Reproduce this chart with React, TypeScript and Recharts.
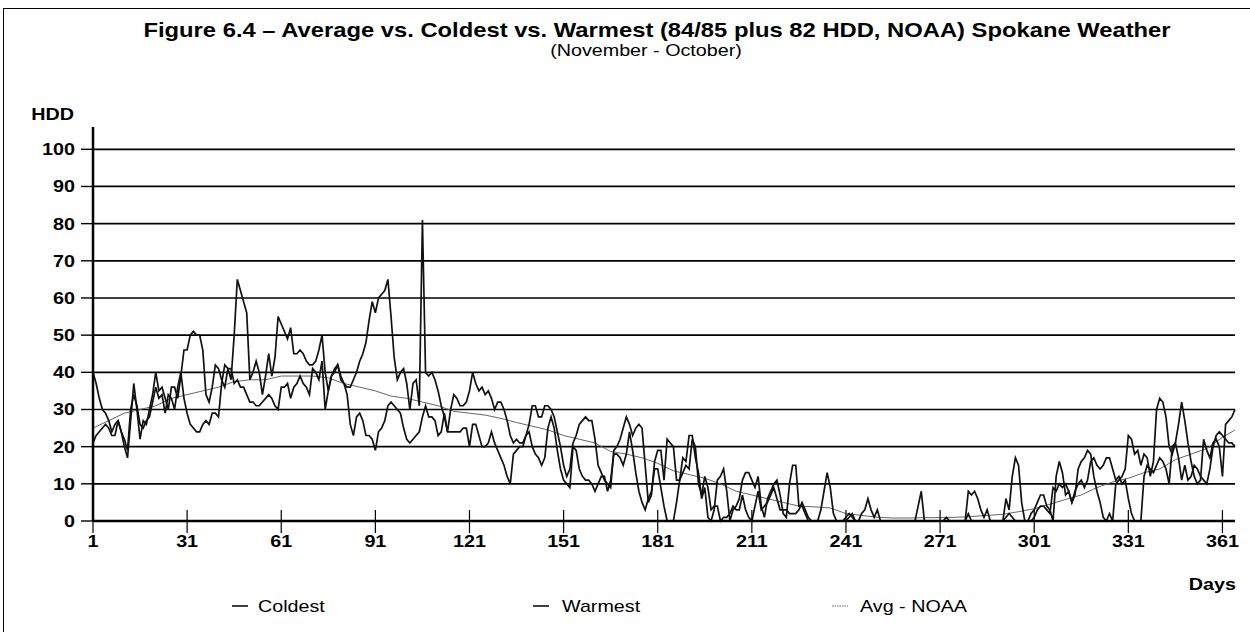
import { LineChart, Line, XAxis, YAxis, CartesianGrid } from 'recharts'

// daily HDD, day 1 = Nov 1
const coldest = [
  40, 37, 33, 30, 29, 27, 24, 26, 27, 24,
  20, 17, 27, 37, 30, 22, 27, 26, 30, 34,
  40, 35, 36, 33, 30, 36, 36, 33, 39, 46,
  46, 50, 51, 50, 50, 46, 34, 32, 36, 42,
  41, 38, 36, 41, 38, 50, 65, 62, 59, 56,
  38, 40, 43, 40, 34, 39, 45, 39, 44, 55,
  53, 51, 49, 52, 45, 45, 46, 45, 43, 42,
  42, 43, 46, 50, 40, 35, 39, 40, 42, 39,
  37, 36, 36, 38, 40, 43, 45, 48, 54, 59,
  56, 60, 61, 62, 65, 55, 44, 38, 40, 41,
  37, 30, 37, 38, 31, 81, 40, 39, 40, 38,
  35, 31, 28, 24, 30, 34, 33, 31, 31, 32,
  35, 40, 37, 35, 36, 34, 35, 33, 30, 32,
  32, 30, 27, 23, 21, 22, 21, 21, 23, 26,
  31, 31, 28, 28, 31, 31, 30, 28, 24, 20,
  15, 12, 14, 21, 23, 26, 27, 28, 27, 27,
  22, 15, 13, 11, 10, 9, 19, 20, 22, 25,
  28, 26, 23, 25, 26, 25, 15, 5, 7, 16,
  19, 19, 11, 22, 21, 20, 11, 11, 17, 16,
  23, 23, 17, 13, 6, 9, 1, 0, 3, 11,
  12, 14, 8, 0, 3, 4, 6, 11, 13, 13,
  11, 9, 12, 4, 1, 6, 8, 10, 11, 7,
  2, 1, 10, 15, 15, 4, 4, 2, 0, 0,
  0, 0, 3, 8, 13, 9, 2, 0, 0, 0,
  0, 1, 2, 0, 0, 2, 3, 6, 3, 1,
  3, 0, 0, 0, 0, 0, 0, 0, 0, 0,
  0, 0, 0, 4, 8, 0, 0, 0, 0, 0,
  0, 0, 1, 0, 0, 0, 0, 0, 0, 8,
  7, 8, 6, 3, 1, 3, 0, 0, 0, 0,
  0, 6, 3, 12, 17, 15, 5, 0, 0, 2,
  3, 5, 7, 7, 4, 3, 0, 12, 16, 13,
  7, 8, 5, 7, 14, 16, 17, 19, 18, 12,
  8, 5, 1, 0, 2, 0, 10, 11, 12, 14,
  23, 22, 18, 19, 15, 18, 17, 12, 16, 30,
  33, 32, 28, 20, 18, 21, 26, 32, 27, 21,
  16, 12, 10, 11, 22, 19, 17, 21, 22, 20,
  12, 26, 27, 28, 30,
]

const warmest = [
  21, 23, 24, 25, 26, 25, 23, 23, 27, 24,
  22, 19, 30, 34, 31, 26, 25, 27, 28, 32,
  36, 33, 34, 29, 34, 33, 30, 36, 40, 33,
  29, 26, 25, 24, 24, 26, 27, 26, 29, 29,
  28, 37, 42, 41, 41, 37, 38, 36, 36, 34,
  32, 32, 31, 31, 32, 33, 34, 33, 31, 30,
  36, 36, 37, 33, 36, 37, 39, 37, 36, 34,
  41, 40, 38, 43, 30, 35, 39, 41, 42, 38,
  37, 34, 26, 23, 28, 29, 27, 23, 23, 22,
  19, 24, 25, 27, 31, 32, 31, 30, 29, 25,
  22, 21, 22, 23, 24, 28, 31, 28, 28, 27,
  23, 24, 29, 24, 24, 24, 24, 24, 25, 25,
  20, 26, 26, 23, 20, 20, 21, 24, 21, 19,
  17, 15, 12, 10, 18, 19, 20, 20, 23, 24,
  20, 18, 17, 15, 17, 25, 28, 25, 19, 14,
  11, 10, 9, 20, 19, 14, 12, 11, 11, 10,
  8, 10, 12, 12, 8, 11, 18, 18, 17, 15,
  18, 24, 19, 13, 8, 5, 3, 6, 8, 14,
  14, 9, 4, 0, 0, 0, 5, 11, 13, 15,
  14, 22, 20, 10, 7, 12, 9, 3, 4, 4,
  0, 1, 1, 2, 4, 3, 3, 7, 3, 1,
  0, 4, 8, 3, 4, 5, 7, 9, 6, 3,
  3, 3, 2, 2, 2, 3, 5, 3, 1, 0,
  0, 0, 0, 0, 0, 0, 0, 0, 0, 0,
  1, 2, 1, 0, 0, 0, 0, 0, 0, 0,
  0, 0, 0, 0, 0, 0, 0, 0, 0, 0,
  0, 0, 0, 0, 0, 0, 0, 0, 0, 0,
  0, 0, 0, 0, 0, 0, 0, 0, 0, 2,
  0, 0, 0, 0, 0, 0, 0, 0, 0, 0,
  0, 1, 2, 1, 0, 0, 0, 0, 0, 0,
  1, 3, 4, 4, 3, 2, 9, 8, 10, 9,
  10, 8, 5, 8, 10, 11, 9, 11, 16, 17,
  15, 14, 15, 17, 17, 14, 11, 12, 10, 11,
  6, 2, 0, 0, 0, 12, 15, 14, 13, 15,
  17, 16, 14, 10, 20, 21, 17, 11, 15, 11,
  12, 15, 14, 12, 11, 10, 14, 20, 23, 24,
  23, 22, 21, 21, 20,
]

// NOAA normal, read every 5 days
const avgDays = [
  1, 6, 11, 16, 21, 26, 31, 36, 41, 46, 51, 56, 61, 66, 71, 76, 81, 86, 91, 96,
  101, 106, 111, 116, 121, 126, 131, 136, 141, 146, 151, 156, 161, 166, 171, 176, 181, 186, 191, 196,
  201, 206, 211, 216, 221, 226, 231, 236, 241, 246, 251, 256, 261, 266, 271, 276, 281, 286, 291, 296,
  301, 306, 311, 316, 321, 326, 331, 336, 341, 346, 351, 356, 361, 365,
]
const avgNoaa = [
  25, 27, 29, 30, 31, 33, 34, 35, 36, 37.5, 38, 38, 39, 39, 39, 38.5, 37, 36, 35, 33.6,
  33, 32, 31, 29.5, 29, 28.5, 27.6, 26.5, 25.5, 24.5, 23, 22, 21, 18.7, 18, 17, 15.5, 13.5, 12.5, 11.5,
  10, 8, 7, 6, 5, 4, 3.8, 3.5, 2, 1.5, 1, 0.8, 0.8, 0.9, 0.9, 1, 1.2, 1.5, 1.8, 2.5,
  3.3, 4.5, 5.8, 7, 9, 10.5, 11.5, 13, 14, 16.5, 18, 19.5, 22.5, 24.5,
]

const dayTicks = [1, 31, 61, 91, 121, 151, 181, 211, 241, 271, 301, 331, 361]
const hddTicks = [0, 10, 20, 30, 40, 50, 60, 70, 80, 90, 100]
const gridValues = [10, 20, 30, 40, 50, 60, 70, 80, 90, 100]

const data = coldest.map((c, i) => {
  const k = avgDays.indexOf(i + 1)
  return { day: i + 1, coldest: c, warmest: warmest[i], avg: k >= 0 ? avgNoaa[k] : null }
})

const FONT = '"Liberation Sans", Arial, Helvetica, sans-serif'
const SX = 1.16 // scanned figure is a little wider than tall

function Txt({ x, y, anchor = 'start', size = 17, bold = false, children }: any) {
  return (
    <text
      transform={`translate(${x} ${y}) scale(${SX} 1)`}
      textAnchor={anchor}
      fontSize={size}
      fontWeight={bold ? 'bold' : 'normal'}
      fontFamily={FONT}
      fill="#000"
    >
      {children}
    </text>
  )
}

function DayTick({ x, y, payload }: any) {
  return (
    <g>
      <line x1={x} x2={x} y1={y - 11} y2={y + 12} stroke="#000" strokeWidth={1.2} />
      <Txt x={x} y={y + 26} anchor="middle" bold>
        {payload.value}
      </Txt>
    </g>
  )
}

function HddTick({ x, y, payload }: any) {
  return (
    <Txt x={x} y={y + 6} anchor="end" bold>
      {payload.value}
    </Txt>
  )
}

export default function App() {
  return (
    <div
      style={{
        position: 'absolute',
        left: 0,
        top: 0,
        width: 1250,
        height: 632,
        overflow: 'hidden',
        background: '#fff',
      }}
    >
      <div
        style={{
          position: 'absolute',
          left: 3,
          top: 8,
          width: 1300,
          height: 700,
          borderLeft: '1.5px solid #000',
          borderTop: '1.5px solid #000',
        }}
      />

      <LineChart
        width={1250}
        height={632}
        data={data}
        margin={{ top: 127, right: 15, bottom: 81, left: 0 }}
        style={{ position: 'absolute', left: 0, top: 0 }}
      >
        <CartesianGrid horizontal vertical={false} horizontalValues={gridValues} stroke="#000" strokeWidth={1.7} />
        <XAxis
          dataKey="day"
          type="number"
          domain={[1, 365]}
          ticks={dayTicks}
          interval={0}
          height={30}
          tickSize={0}
          tickMargin={0}
          tick={<DayTick />}
          axisLine={{ stroke: '#000', strokeWidth: 2.5 }}
          tickLine={false}
        />
        <YAxis
          type="number"
          domain={[0, 106]}
          ticks={hddTicks}
          interval={0}
          width={93}
          tickSize={12}
          tickMargin={6}
          tick={<HddTick />}
          tickLine={{ stroke: '#000', strokeWidth: 1.4 }}
          axisLine={{ stroke: '#000', strokeWidth: 2.5 }}
        />
        <Line dataKey="avg" type="linear" stroke="#666" strokeWidth={1} dot={false} connectNulls isAnimationActive={false} />
        <Line dataKey="warmest" type="linear" stroke="#111" strokeWidth={1.7} dot={false} isAnimationActive={false} />
        <Line dataKey="coldest" type="linear" stroke="#111" strokeWidth={1.7} dot={false} isAnimationActive={false} />
      </LineChart>

      <svg width={1250} height={632} style={{ position: 'absolute', left: 0, top: 0, pointerEvents: 'none' }}>
        <Txt x={657} y={37} anchor="middle" size={20.5} bold>
          Figure 6.4 – Average vs. Coldest vs. Warmest (84/85 plus 82 HDD, NOAA) Spokane Weather
        </Txt>
        <Txt x={646} y={56} anchor="middle">
          (November - October)
        </Txt>
        <Txt x={74} y={120} anchor="end" bold>
          HDD
        </Txt>
        <Txt x={1236} y={590} anchor="end" bold>
          Days
        </Txt>

        <line x1={232} x2={248} y1={606} y2={606} stroke="#000" strokeWidth={1.5} />
        <Txt x={258} y={612}>Coldest</Txt>
        <line x1={533} x2={549} y1={606} y2={606} stroke="#000" strokeWidth={1.5} />
        <Txt x={562} y={612}>Warmest</Txt>
        <line x1={832} x2={848} y1={606} y2={606} stroke="#666" strokeWidth={1} strokeDasharray="1.5 1" />
        <Txt x={860} y={612}>Avg - NOAA</Txt>
      </svg>
    </div>
  )
}
